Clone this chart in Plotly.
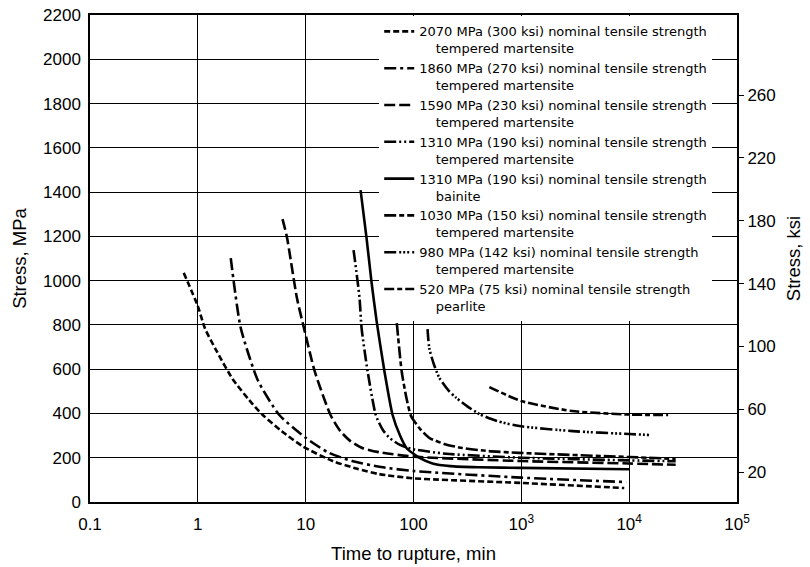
import plotly.graph_objects as go

# ---------------- data ----------------
names = [
    "2070 MPa (300 ksi) nominal tensile strength<br>    tempered martensite",
    "1860 MPa (270 ksi) nominal tensile strength<br>    tempered martensite",
    "1590 MPa (230 ksi) nominal tensile strength<br>    tempered martensite",
    "1310 MPa (190 ksi) nominal tensile strength<br>    tempered martensite",
    "1310 MPa (190 ksi) nominal tensile strength<br>    bainite",
    "1030 MPa (150 ksi) nominal tensile strength<br>    tempered martensite",
    "980 MPa (142 ksi) nominal tensile strength<br>    tempered martensite",
    "520 MPa (75 ksi) nominal tensile strength<br>    pearlite",
]

t_2070 = [0.74, 1.0, 1.16, 1.5, 2.1, 3.0, 4.0, 6.0, 9.5, 17.8, 30, 48, 100, 1000, 9000]
s_2070 = [1035, 885, 786, 680, 556, 460, 393, 320, 250, 185, 150, 126, 107, 86, 63]

t_1860 = [2.02, 2.16, 2.5, 3.6, 5.7, 10, 16, 27, 50, 100, 1000, 9400]
s_1860 = [1102, 989, 786, 550, 393, 290, 225, 185, 158, 140, 110, 90]

t_1590 = [6.1, 6.7, 8.3, 9.6, 12.1, 17, 21, 26, 33, 48, 100, 1000, 10000, 27000]
s_1590 = [1278, 1197, 921, 790, 592, 393, 320, 275, 245, 225, 205, 185, 174, 168]

t_1310tm = [27.8, 29.5, 31.6, 33, 37.5, 44.7, 52, 60, 75, 98, 200, 1000, 10000, 27000]
s_1310tm = [1138, 1043, 921, 786, 592, 393, 325, 289, 258, 239, 218, 200, 188, 184]

t_1310b = [32.3, 36.7, 40.7, 45.5, 53.7, 64, 75, 86, 114, 150, 220, 400, 1000, 10000]
s_1310b = [1409, 1192, 998, 817, 592, 393, 300, 244, 199, 174, 162, 157, 154, 148]

t_1030 = [70, 77.6, 86, 95, 115, 141, 200, 284, 500, 950, 10000, 27000]
s_1030 = [808, 592, 470, 388, 330, 289, 260, 244, 230, 222, 203, 195]

t_980 = [135, 140, 155, 174, 210, 250, 320, 410, 600, 960, 3000, 10000, 15300]
s_980 = [781, 695, 620, 560, 505, 470, 430, 397, 365, 343, 320, 307, 303]

t_520 = [505, 1000, 2950, 10000, 23000]
s_520 = [519, 456, 411, 395, 393]

x_tickvals = [0.1, 1, 10, 100, 1000, 10000, 100000]
x_ticktext = ["0.1", "1", "10", "100", "10<sup>3</sup>", "10<sup>4</sup>", "10<sup>5</sup>"]
y_tickvals = [0, 200, 400, 600, 800, 1000, 1200, 1400, 1600, 1800, 2000, 2200]
ksi_tickvals = [20, 60, 100, 140, 180, 220, 260]
ksi_range = [1, 311]   # right scale as drawn in the reference

# ---------------- styles ----------------
series = [
    (t_2070, s_2070, "6px,3px"),
    (t_1860, s_1860, "12px,4px,3px,4px"),
    (t_1590, s_1590, "11px,4px"),
    (t_1310tm, s_1310tm, "12px,3px,2px,3px,2px,3px"),
    (t_1310b, s_1310b, "solid"),
    (t_1030, s_1030, "12px,3px,5px,3px"),
    (t_980, s_980, "12px,3px,2px,2px,2px,2px,2px,3px"),
    (t_520, s_520, "10px,3px,5px,3px"),
]

fig = go.Figure()
for (t, s, dash), name in zip(series, names):
    fig.add_trace(go.Scatter(
        x=t, y=s, mode="lines", name=name,
        line=dict(color="black", width=2.6, dash=dash, shape="spline", smoothing=0.6),
    ))

# invisible trace for the right (ksi) axis
fig.add_trace(go.Scatter(x=[1], y=[100], yaxis="y2", mode="markers",
                         marker=dict(opacity=0), showlegend=False, hoverinfo="skip"))

font_main = dict(family="Liberation Sans, Arial, sans-serif", size=17, color="black")

fig.update_layout(
    width=810, height=567,
    margin=dict(l=90, r=73, t=15, b=65, autoexpand=False),
    paper_bgcolor="white", plot_bgcolor="white",
    font=font_main,
    showlegend=True,
    legend=dict(
        x=0.447, y=0.997, xanchor="left", yanchor="top",
        bgcolor="white", borderwidth=0,
        font=dict(family="DejaVu Sans, sans-serif", size=13, color="black"),
        valign="top", tracegroupgap=0, itemwidth=30,
    ),
    xaxis=dict(
        type="log", range=[-1, 5], automargin=False,
        tickvals=x_tickvals, ticktext=x_ticktext,
        showgrid=True, gridcolor="black", gridwidth=1,
        showline=True, linecolor="black", linewidth=1.5, mirror=True,
        ticks="", zeroline=False, ticklabelstandoff=6,
        title=dict(text="Time to rupture, min", font=dict(size=18.5), standoff=14),
    ),
    yaxis=dict(
        range=[0, 2200], tickvals=y_tickvals, automargin=False,
        showgrid=True, gridcolor="black", gridwidth=1,
        showline=True, linecolor="black", linewidth=1.5, mirror=True,
        ticks="", zeroline=False, ticklabelstandoff=4,
        title=dict(text="Stress, MPa", font=dict(size=18.5), standoff=12),
    ),
    yaxis2=dict(
        overlaying="y", side="right", automargin=False,
        range=ksi_range, tickvals=ksi_tickvals,
        showgrid=False, zeroline=False, showline=False,
        ticks="outside", ticklen=6, tickcolor="black", tickwidth=1,
        title=dict(text="Stress, ksi", font=dict(size=18.5), standoff=12),
    ),
)

fig.write_html("out.html")
